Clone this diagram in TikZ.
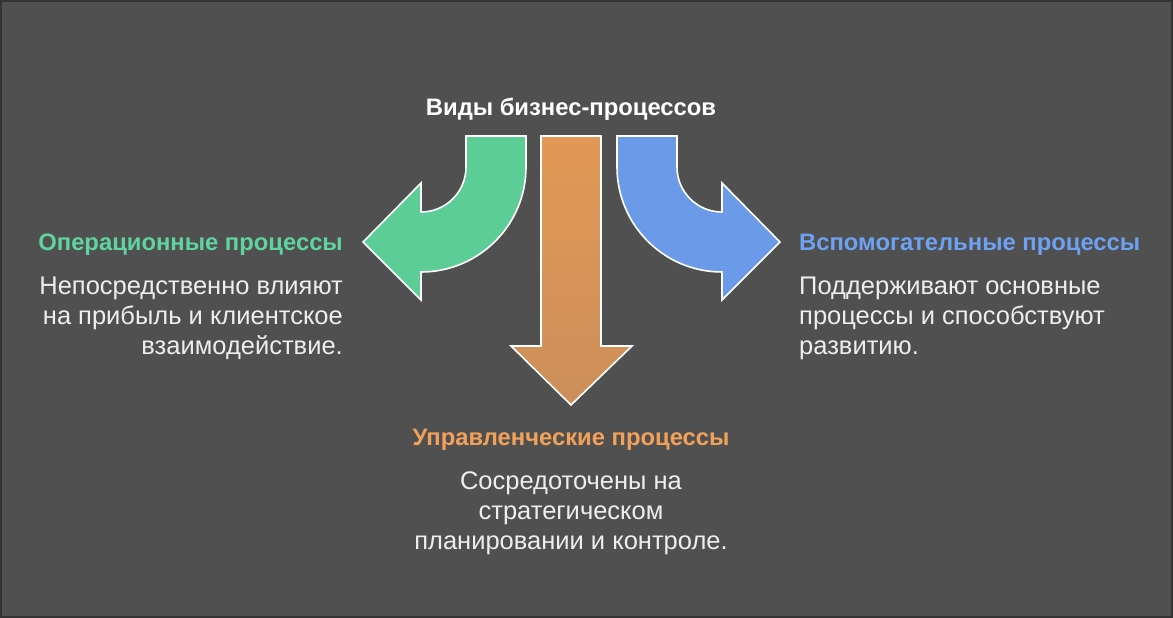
\documentclass[tikz,border=0pt]{standalone}
\usepackage{fontspec}
\setmainfont{Liberation Sans}
\usetikzlibrary{shadings}
\definecolor{bg}{HTML}{505050}
\definecolor{frame}{HTML}{333333}
\definecolor{greenA}{HTML}{5DCD97}
\definecolor{blueA}{HTML}{6B9BE8}
\definecolor{orangeTop}{HTML}{E29855}
\definecolor{orangeBot}{HTML}{CC8F5A}
\definecolor{greenT}{HTML}{5FD49E}
\definecolor{blueT}{HTML}{6DA1F2}
\definecolor{orangeT}{HTML}{F2A15A}
\definecolor{bodyT}{HTML}{EEEEEE}
\begin{document}
\begin{tikzpicture}[x=1pt,y=-1pt,
  arrowshape/.style={draw=white,line width=1.6pt,line join=miter},
  headtxt/.style={font=\fontsize{23.8}{28}\selectfont\bfseries,inner sep=0pt},
  bodytxt/.style={font=\fontsize{25.5}{30}\selectfont,text=bodyT,inner sep=0pt}]
\useasboundingbox (0,0) rectangle (1173,618);
\fill[frame] (0,0) rectangle (1173,618);
\fill[bg] (2,2) rectangle (1171,616);
% green arrow (left)
\draw[arrowshape,fill=greenA]
  (466,136) -- (526,136) -- (526,167)
  arc[start angle=0,end angle=90,radius=105]
  -- (421,300) -- (363,242) -- (421,183) -- (421,212)
  arc[start angle=90,end angle=0,radius=45] -- cycle;
% blue arrow (right)
\draw[arrowshape,fill=blueA]
  (677,136) -- (617,136) -- (617,167)
  arc[start angle=180,end angle=90,radius=105]
  -- (722,300) -- (780,242) -- (722,183) -- (722,212)
  arc[start angle=90,end angle=180,radius=45] -- cycle;
% orange arrow (down)
\draw[arrowshape,top color=orangeTop,bottom color=orangeBot]
  (541,136) -- (601,136) -- (601,346) -- (632,346) -- (571,405)
  -- (511,346) -- (541,346) -- cycle;
% texts
\node[headtxt,text=white,anchor=base] (title) at (571,115) {Виды бизнес-процессов};
\node[headtxt,text=greenT,anchor=base east] (hop) at (343,250) {Операционные процессы};
\node[bodytxt,anchor=base east] (op1) at (343,294) {Непосредственно влияют};
\node[bodytxt,anchor=base east] (op2) at (343,324) {на прибыль и клиентское};
\node[bodytxt,anchor=base east] (op3) at (343,354) {взаимодействие.};
\node[headtxt,text=blueT,anchor=base west] (hsp) at (799,250) {Вспомогательные процессы};
\node[bodytxt,anchor=base west] (sp1) at (799,294) {Поддерживают основные};
\node[bodytxt,anchor=base west] (sp2) at (799,324) {процессы и способствуют};
\node[bodytxt,anchor=base west] (sp3) at (799,354) {развитию.};
\node[headtxt,text=orangeT,anchor=base] (hup) at (571,445) {Управленческие процессы};
\node[bodytxt,anchor=base] (up1) at (571,489) {Сосредоточены на};
\node[bodytxt,anchor=base] (up2) at (571,519) {стратегическом};
\node[bodytxt,anchor=base] (up3) at (571,549) {планировании и контроле.};
\end{tikzpicture}
\end{document}
